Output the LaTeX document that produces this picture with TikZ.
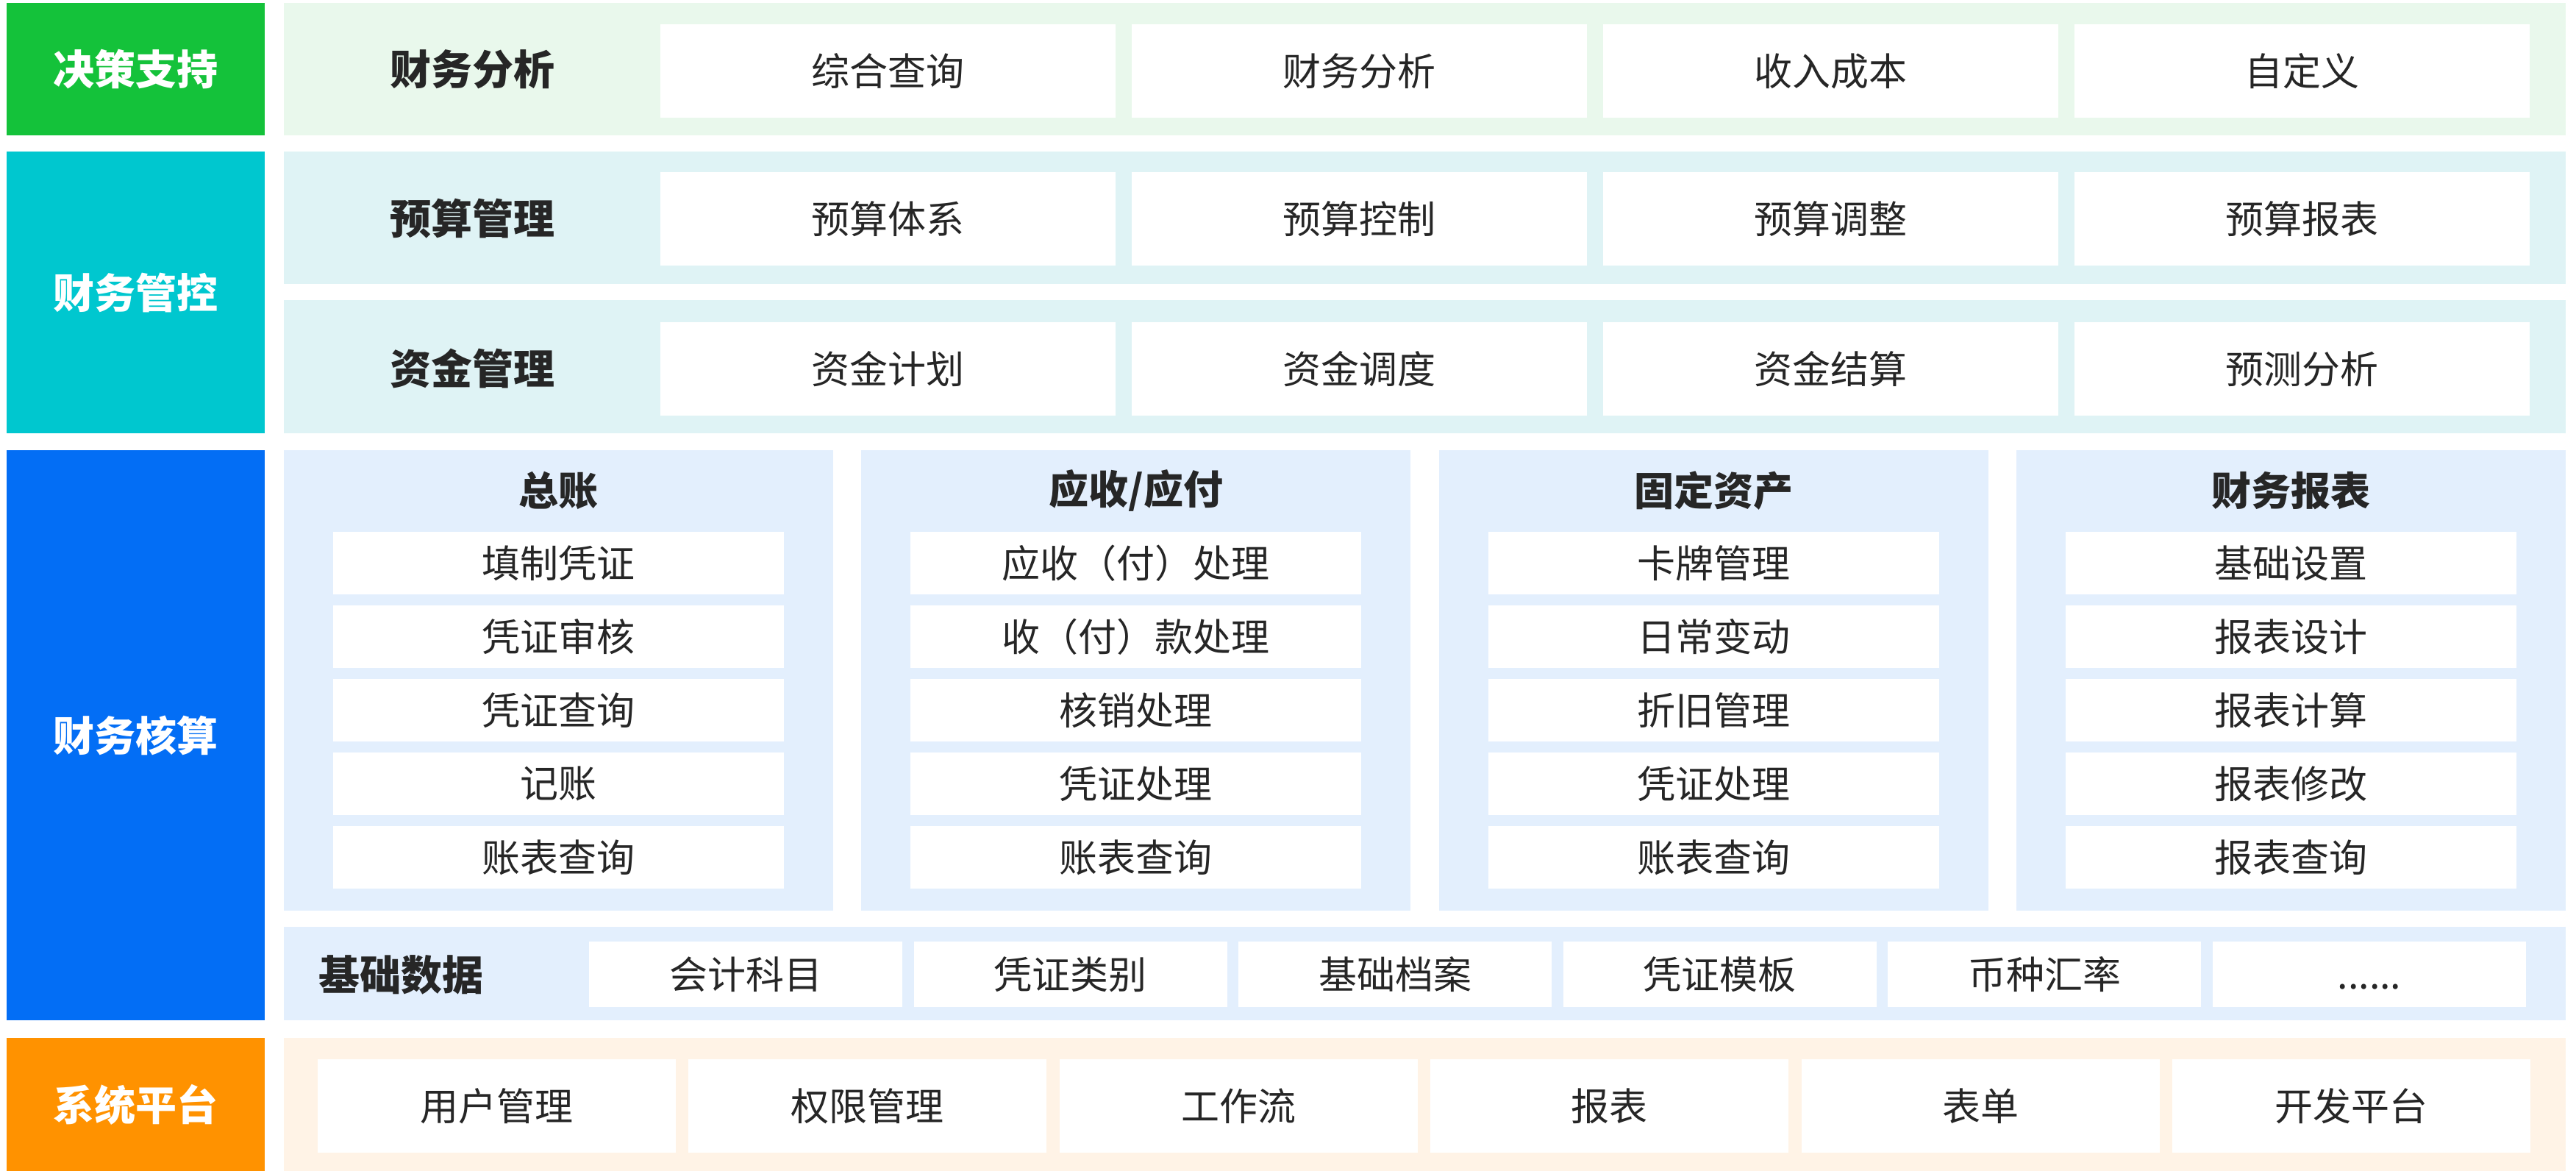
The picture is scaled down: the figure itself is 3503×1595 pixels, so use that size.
\documentclass[tikz,border=0pt]{standalone}
\usepackage{fontspec}
\setmainfont{Noto Sans CJK SC}
\definecolor{cgreen}{HTML}{14C23A}
\definecolor{lgreen}{HTML}{E9F8EC}
\definecolor{cteal}{HTML}{00C7CF}
\definecolor{lteal}{HTML}{DFF3F5}
\definecolor{cblue}{HTML}{036EF5}
\definecolor{lblue}{HTML}{E3EFFD}
\definecolor{corange}{HTML}{FF9200}
\definecolor{lorange}{HTML}{FFF3E6}
\definecolor{tdark}{HTML}{262626}
\newcommand\sixdots{\vphantom{会}......}
\newcommand\rbox[7]{%
  \node[#6, minimum width={(#4-#2)*1pt}, minimum height={(#5-#3)*1pt}] (#1) at ({(#2+#4)/2},{(#3+#5)/2}) {#7};}
\newcommand\acctpanel[7]{%
  \pgfmathsetmacro\pxa{386+#1*785.33}%
  \pgfmathsetmacro\pxb{\pxa+747}%
  \rbox{p#1}{\pxa}{612}{\pxb}{1238}{panel=lblue}{}
  \node[title] (p#1t) at ({(\pxa+\pxb)/2},667) {#2};
  \foreach \t [count=\j from 0] in {#3,#4,#5,#6,#7}{%
    \pgfmathsetmacro\ya{723+\j*100}%
    \pgfmathsetmacro\yb{\ya+85}%
    \pgfmathsetmacro\ia{\pxa+67}%
    \pgfmathsetmacro\ib{\pxa+680}%
    \rbox{p#1i\j}{\ia}{\ya}{\ib}{\yb}{item}{\t}
  }%
}
\begin{document}
\begin{tikzpicture}[x=1pt,y=-1pt,
  cat/.style={fill=#1, draw=none, text=white, inner sep=0pt, font=\fontsize{56}{60}\selectfont\bfseries},
  panel/.style={fill=#1, draw=none, inner sep=0pt},
  item/.style={fill=white, draw=none, inner sep=0pt, text=tdark, font=\fontsize{52}{56}\selectfont},
  rowlabel/.style={text=tdark, inner sep=0pt, font=\fontsize{56}{60}\selectfont\bfseries},
  title/.style={text=tdark, inner sep=0pt, font=\fontsize{54}{58}\selectfont\bfseries}]
\useasboundingbox (0,0) rectangle (3503,1595);
% categories
\rbox{c1}{9}{4}{360}{184}{cat=cgreen}{决策支持}
\rbox{c2}{9}{206}{360}{589}{cat=cteal}{财务管控}
\rbox{c3}{9}{612}{360}{1387}{cat=cblue}{财务核算}
\rbox{c4}{9}{1411}{360}{1592}{cat=corange}{系统平台}
% row 1
\rbox{r1}{386}{4}{3489}{184}{panel=lgreen}{}
\node[rowlabel] (r1l) at (642,94) {财务分析};
\foreach \t [count=\i from 0] in {综合查询,财务分析,收入成本,自定义}{%
  \pgfmathsetmacro\xa{898+\i*641}\pgfmathsetmacro\xb{\xa+619}%
  \rbox{r1b\i}{\xa}{33}{\xb}{160}{item}{\t}}
% row 2
\rbox{r2}{386}{206}{3489}{386}{panel=lteal}{}
\node[rowlabel] (r2l) at (642,297) {预算管理};
\foreach \t [count=\i from 0] in {预算体系,预算控制,预算调整,预算报表}{%
  \pgfmathsetmacro\xa{898+\i*641}\pgfmathsetmacro\xb{\xa+619}%
  \rbox{r2b\i}{\xa}{234}{\xb}{361}{item}{\t}}
% row 3
\rbox{r3}{386}{408}{3489}{589}{panel=lteal}{}
\node[rowlabel] (r3l) at (642,501) {资金管理};
\foreach \t [count=\i from 0] in {资金计划,资金调度,资金结算,预测分析}{%
  \pgfmathsetmacro\xa{898+\i*641}\pgfmathsetmacro\xb{\xa+619}%
  \rbox{r3b\i}{\xa}{438}{\xb}{565}{item}{\t}}
% accounting panels
\acctpanel{0}{总账}{填制凭证}{凭证审核}{凭证查询}{记账}{账表查询}
\acctpanel{1}{应收/应付}{应收（付）处理}{收（付）款处理}{核销处理}{凭证处理}{账表查询}
\acctpanel{2}{固定资产}{卡牌管理}{日常变动}{折旧管理}{凭证处理}{账表查询}
\acctpanel{3}{财务报表}{基础设置}{报表设计}{报表计算}{报表修改}{报表查询}
% base data
\rbox{bd}{386}{1260}{3489}{1387}{panel=lblue}{}
\node[rowlabel] (bdl) at (545,1325) {基础数据};
\foreach \t [count=\i from 0] in {会计科目,凭证类别,基础档案,凭证模板,币种汇率,\sixdots}{%
  \pgfmathsetmacro\xa{801+\i*441.6}\pgfmathsetmacro\xb{\xa+426}%
  \rbox{bd\i}{\xa}{1280}{\xb}{1369}{item}{\t}}
% platform
\rbox{sp}{386}{1411}{3489}{1592}{panel=lorange}{}
\foreach \t [count=\i from 0] in {用户管理,权限管理,工作流,报表,表单,开发平台}{%
  \pgfmathsetmacro\xa{432+\i*504.4}\pgfmathsetmacro\xb{\xa+487}%
  \rbox{sp\i}{\xa}{1440}{\xb}{1567}{item}{\t}}
\end{tikzpicture}
\end{document}
